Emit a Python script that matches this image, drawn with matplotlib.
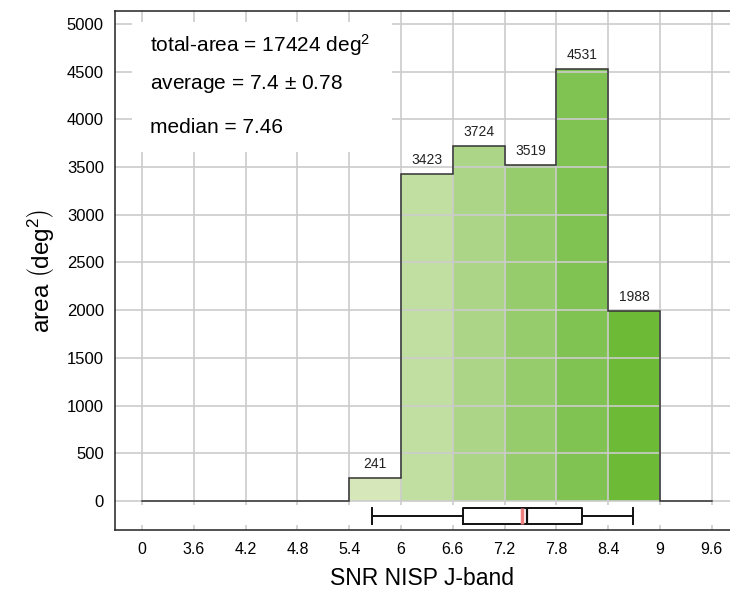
import matplotlib
matplotlib.use("Agg")
import matplotlib.pyplot as plt
from matplotlib.patches import Rectangle

plt.rcParams['font.family'] = ['Liberation Sans', 'DejaVu Sans']
plt.rcParams['mathtext.fontset'] = 'custom'
plt.rcParams['mathtext.rm'] = 'Liberation Sans'
plt.rcParams['mathtext.it'] = 'Liberation Sans:italic'

# Histogram of survey area per SNR bin
tick_labels = ["0", "3.6", "4.2", "4.8", "5.4", "6", "6.6", "7.2", "7.8", "8.4", "9", "9.6"]
bin_edges = [5.4, 6.0, 6.6, 7.2, 7.8, 8.4, 9.0]
areas = [241, 3423, 3724, 3519, 4531, 1988]
bar_colors = ["#d6e7b9", "#c1dfa0", "#add587", "#96cc6b", "#81c352", "#6cba36"]

# Box-plot summary of the SNR distribution
snr_whislo, snr_q1, snr_med, snr_q3, snr_whishi = 5.66, 6.72, 7.46, 8.10, 8.69
snr_mean = 7.40

total_area = 17424
avg_snr, std_snr = 7.4, 0.78


def pos(v):
    """Map an SNR value onto the evenly spaced tick slots (0 sits in slot 0)."""
    return (v - 3.0) / 0.6


fig = plt.figure(figsize=(7.30, 5.89), dpi=100)
ax = fig.add_axes([115 / 730, 59 / 589, 1 - 115 / 730, (530 - 11) / 589])
ymin, ymax = -304, 5136
ax.set_xlim(-0.52, 11.35)
ax.set_ylim(ymin, ymax)

# filled bins
for i, a in enumerate(areas):
    x0, x1 = pos(bin_edges[i]), pos(bin_edges[i + 1])
    ax.add_patch(Rectangle((x0, 0), x1 - x0, a, facecolor=bar_colors[i],
                           edgecolor="none", zorder=1))

# grid drawn over the bars
grid_c = "#cccccc"
ax.hlines(range(0, 5001, 500), -0.52, 11.35, colors=grid_c, lw=1.2, zorder=2)
ax.vlines(range(12), -40, ymax, colors=grid_c, lw=1.2, zorder=2)
ax.vlines(range(12), ymin, ymin + 50, colors=grid_c, lw=1.2, zorder=2)

# step outline of the histogram
sx = [0, pos(bin_edges[0])]
sy = [0, 0]
for i, a in enumerate(areas):
    sx += [pos(bin_edges[i]), pos(bin_edges[i + 1])]
    sy += [a, a]
sx += [pos(bin_edges[-1]), 11]
sy += [0, 0]
ax.plot(sx, sy, color="#333333", lw=1.1, zorder=3, solid_joinstyle="miter")

# value labels
for i, a in enumerate(areas):
    xc = (pos(bin_edges[i]) + pos(bin_edges[i + 1])) / 2
    ax.text(xc, a + 75, f"{a}", ha="center", va="bottom", fontsize=10,
            color="#222222", zorder=4)

# box plot below the histogram
stats = [dict(whislo=pos(snr_whislo), q1=pos(snr_q1), med=pos(snr_med),
              q3=pos(snr_q3), whishi=pos(snr_whishi), fliers=[])]
ax.bxp(stats, positions=[-157], widths=170, orientation="horizontal",
       showfliers=False, manage_ticks=False,
       boxprops=dict(color="#111111", lw=1.4),
       whiskerprops=dict(color="#111111", lw=1.4),
       capprops=dict(color="#111111", lw=1.4),
       medianprops=dict(color="#111111", lw=1.6),
       capwidths=170)
ax.vlines(pos(snr_mean), -157 - 80, -157 + 80, colors="#f08080", lw=2.5, zorder=3)

# statistics box
ax.add_patch(Rectangle((-0.19, 3660), 5.02, 1360, facecolor="white",
                       edgecolor="none", zorder=5))
stat_fs = 15
ax.text(0.15, 4780, "total-area = %d deg$^2$" % total_area, fontsize=stat_fs,
        va="center", ha="left", zorder=6)
ax.text(0.15, 4371, "average = %.1f $\\pm$ %.2f" % (avg_snr, std_snr), fontsize=stat_fs,
        va="center", ha="left", zorder=6)
ax.text(0.15, 3920, "median = %.2f" % snr_med, fontsize=stat_fs,
        va="center", ha="left", zorder=6)

# axes styling
ax.set_xticks(range(12))
ax.set_xticklabels(tick_labels, fontsize=11.5)
ax.set_yticks(range(0, 5001, 500))
ax.tick_params(axis="x", length=0, pad=9)
ax.tick_params(axis="y", length=0, pad=8, labelsize=12)
ax.spines["right"].set_visible(False)
for s in ("left", "bottom", "top"):
    ax.spines[s].set_color("#222222")
    ax.spines[s].set_linewidth(1.1)

ax.set_xlabel("SNR NISP J-band", fontsize=16.5, labelpad=7)
ax.set_ylabel(r"area $\left(\mathrm{deg}^2\right)$", fontsize=17.5, labelpad=8)

fig.savefig("out.png", dpi=100)
